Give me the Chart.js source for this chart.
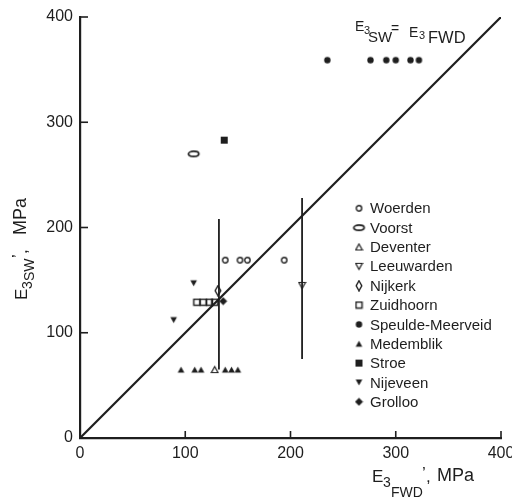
<!DOCTYPE html>
<html><head><meta charset="utf-8">
<script src="https://cdn.jsdelivr.net/npm/chart.js@4/dist/chart.umd.min.js"></script>
<style>html,body{margin:0;padding:0;background:#fff}canvas{display:block}</style>
</head><body>
<canvas id="c" width="512" height="501"></canvas>
<script>
// ---- data (E3FWD, E3SW in MPa) ----
const seriesNames = ["Woerden","Voorst","Deventer","Leeuwarden","Nijkerk","Zuidhoorn","Speulde-Meerveid","Medemblik","Stroe","Nijeveen","Grolloo"];
const woerden   = [[138,169],[152,169],[159,169],[194,169]];
const voorst    = [[108,270]];
const deventer  = [[128,65]];
const leeuwarden= [[211,145]];
const nijkerk   = [[131,140]];
const zuidhoorn = [[111,129],[117,129],[123,129],[128,129]];
const speulde   = [[235,359],[276,359],[291,359],[300,359],[314,359],[322,359]];
const medemblik = [[96,65],[109,65],[115,65],[138,65],[144,65],[150,65]];
const stroe     = [[137,283]];
const nijeveen  = [[108,147],[89,112]];
const grolloo   = [[136,130]];
const nijkerkRange    = [[132,65],[132,208]];
const leeuwardenRange = [[211,75],[211,228]];
const equalityLine    = [[0,0],[400,400]];
const xTicks = [0,100,200,300,400];
const yTicks = [0,100,200,300,400];

const INK = '#1e1e1e';
const FONT = '"Liberation Sans", Arial, sans-serif';

function mk(w,h,draw){const c=document.createElement('canvas');c.width=w;c.height=h;const g=c.getContext('2d');g.strokeStyle=INK;g.fillStyle=INK;g.lineWidth=1.4;draw(g,w,h);return c;}
function tri(g,up){g.beginPath();if(up){g.moveTo(4.5,1.5);g.lineTo(7.8,7.5);g.lineTo(1.2,7.5);}else{g.moveTo(1.2,1.5);g.lineTo(7.8,1.5);g.lineTo(4.5,7.5);}g.closePath();}
const markers = {
  Woerden: mk(9,9,g=>{g.beginPath();g.arc(4.5,4.5,2.7,0,Math.PI*2);g.stroke();}),
  Voorst: mk(15,9,g=>{g.lineWidth=1.7;g.beginPath();g.ellipse(7.5,4.5,5.2,2.6,0,0,Math.PI*2);g.stroke();}),
  Deventer: mk(9,9,g=>{g.lineWidth=1.2;tri(g,true);g.stroke();}),
  Leeuwarden: mk(9,9,g=>{g.lineWidth=1.2;tri(g,false);g.stroke();}),
  Nijkerk: mk(8,12,g=>{g.beginPath();g.moveTo(4,1);g.lineTo(6.8,6);g.lineTo(4,11);g.lineTo(1.2,6);g.closePath();g.stroke();}),
  Zuidhoorn: mk(9,9,g=>{g.strokeRect(1.5,1.5,6,6);}),
  'Speulde-Meerveid': mk(9,9,g=>{g.beginPath();g.arc(4.5,4.5,3.2,0,Math.PI*2);g.fill();}),
  Medemblik: mk(9,9,g=>{tri(g,true);g.fill();}),
  Stroe: mk(9,9,g=>{g.fillRect(1,1,7,7);}),
  Nijeveen: mk(9,9,g=>{tri(g,false);g.fill();}),
  Grolloo: mk(9,9,g=>{g.beginPath();g.moveTo(4.5,0.5);g.lineTo(8.5,4.5);g.lineTo(4.5,8.5);g.lineTo(0.5,4.5);g.closePath();g.fill();})
};
const seriesData = [woerden,voorst,deventer,leeuwarden,nijkerk,zuidhoorn,speulde,medemblik,stroe,nijeveen,grolloo];
const pts = a => a.map(p=>({x:p[0],y:p[1]}));

const lineDs = (label,arr,w)=>({label,data:pts(arr),showLine:true,borderColor:INK,borderWidth:w,pointRadius:0,pointHoverRadius:0,fill:false});
const datasets = [
  lineDs('equality',equalityLine,2.2),
  lineDs('Nijkerk range',nijkerkRange,1.8),
  lineDs('Leeuwarden range',leeuwardenRange,1.8),
  ...seriesNames.map((n,i)=>({label:n,data:pts(seriesData[i]),pointStyle:markers[n],pointRadius:4,showLine:false}))
];

// parts: [text, fontSize, x, baseline]
function rich(ctx,parts){
  for(const [t,size,x,y] of parts){ctx.font=size+'px '+FONT;ctx.fillText(t,x,y);}
}

const decor = {
  id:'decor',
  afterDraw(chart){
    const ctx=chart.ctx, xs=chart.scales.x, ys=chart.scales.y;
    ctx.save();
    ctx.strokeStyle=INK;ctx.lineWidth=1.6;
    const left=xs.left, bottom=ys.bottom;
    for(const v of yTicks.slice(1)){const y=ys.getPixelForValue(v);ctx.beginPath();ctx.moveTo(left,y);ctx.lineTo(left+8,y);ctx.stroke();}
    for(const v of xTicks.slice(1)){const x=xs.getPixelForValue(v);ctx.beginPath();ctx.moveTo(x,bottom);ctx.lineTo(x,bottom-7);ctx.stroke();}
    ctx.fillStyle=INK;ctx.textAlign='left';ctx.textBaseline='alphabetic';
    // x title
    rich(ctx,[['E',17,372,482],['3',14,383,487],['FWD',14,391,497],['\u2019',17,422,479],[',',17,426,482],['MPa',18,437,481]]);
    // y title (rotated, reads bottom to top)
    ctx.save();ctx.translate(0,0);
    ctx.translate(27,300);ctx.rotate(-Math.PI/2);
    rich(ctx,[['E',17,0,0],['3',14,11,5],['SW',14,19,7],['\u2019',17,42,-3],[',',17,46,0],['MPa',18,65,-1]]);
    ctx.restore();
    // equality label
    rich(ctx,[['E',14,355,31],['3',11,364,34],['SW',15,368,41.5],['=',14,391,33],['E',14,409,36.5],['3',11,419,38.5],['FWD',16.5,428,43]]);
    // legend
    ctx.font='15px '+FONT;ctx.textBaseline='middle';
    seriesNames.forEach((n,i)=>{
      const y=208.3+i*19.35, m=markers[n];
      ctx.drawImage(m,359-m.width/2,y-m.height/2);
      ctx.fillText(n,370,y+1);
    });
    ctx.restore();
  }
};

new Chart(document.getElementById('c'),{
  type:'scatter',
  data:{datasets},
  options:{
    responsive:false,animation:false,devicePixelRatio:1,
    layout:{padding:{top:17,right:11,left:0,bottom:0}},
    plugins:{legend:{display:false},tooltip:{enabled:false}},
    scales:{
      x:{type:'linear',min:0,max:400,
        afterBuildTicks:s=>{s.ticks=xTicks.map(v=>({value:v}));},
        afterFit:s=>{s.height=63;s.paddingLeft=0;s.paddingRight=0;},
        grid:{display:true,drawOnChartArea:false,drawTicks:false},
        border:{display:true,color:INK,width:2.2},
        ticks:{color:INK,font:{family:FONT,size:16},padding:6,maxRotation:0}},
      y:{type:'linear',min:0,max:400,
        afterBuildTicks:s=>{s.ticks=yTicks.map(v=>({value:v}));},
        afterFit:s=>{s.width=80;s.paddingTop=0;s.paddingBottom=0;},
        grid:{display:true,drawOnChartArea:false,drawTicks:false},
        border:{display:true,color:INK,width:2.2},
        ticks:{color:INK,font:{family:FONT,size:16},padding:7}}
    }
  },
  plugins:[decor]
});
</script>
</body></html>
